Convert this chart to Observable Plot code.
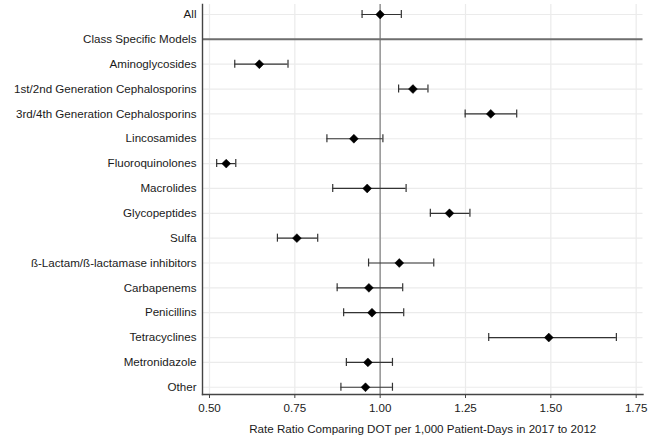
<!DOCTYPE html>
<html>
<head>
<meta charset="utf-8">
<script src="https://cdn.jsdelivr.net/npm/d3@7"></script>
<script src="https://cdn.jsdelivr.net/npm/@observablehq/plot@0.6"></script>
<style>
  html, body { margin: 0; padding: 0; background: #fff; }
  #chart svg { display: block; }
</style>
</head>
<body>
<div id="chart"></div>
<script>
const categories = [
  "All",
  "Class Specific Models",
  "Aminoglycosides",
  "1st/2nd Generation Cephalosporins",
  "3rd/4th Generation Cephalosporins",
  "Lincosamides",
  "Fluoroquinolones",
  "Macrolides",
  "Glycopeptides",
  "Sulfa",
  "ß-Lactam/ß-lactamase inhibitors",
  "Carbapenems",
  "Penicillins",
  "Tetracyclines",
  "Metronidazole",
  "Other"
];
const estimate = [1.00, null, 0.646, 1.096, 1.324, 0.923, 0.549, 0.962, 1.203, 0.756, 1.056, 0.967, 0.976, 1.494, 0.964, 0.957];
const lower    = [0.947, null, 0.574, 1.054, 1.249, 0.844, 0.521, 0.861, 1.147, 0.699, 0.966, 0.874, 0.893, 1.318, 0.901, 0.885];
const upper    = [1.062, null, 0.730, 1.140, 1.400, 1.008, 0.577, 1.076, 1.263, 0.817, 1.157, 1.066, 1.069, 1.692, 1.036, 1.036];
const xTicks = [0.50, 0.75, 1.00, 1.25, 1.50, 1.75];
const xLabel = "Rate Ratio Comparing DOT per 1,000 Patient-Days in 2017 to 2012";
const sectionRow = "Class Specific Models";
const referenceValue = 1.00;

const rows = categories.map((c, i) => ({cat: c, est: estimate[i], lo: lower[i], hi: upper[i]}))
  .filter(d => d.est != null);

const step = 24.85;
const firstCenter = 14;
const capHalf = 4;

const chart = Plot.plot({
  width: 657,
  height: 439,
  marginLeft: 202,
  marginRight: 14.5,
  marginTop: 4,
  marginBottom: 45,
  style: {fontFamily: "'Liberation Sans', Arial, sans-serif", fontSize: "11.6px", color: "#1a1a1a", background: "#fff"},
  x: {domain: [0.4795, 1.77]},
  y: {type: "band", domain: categories, padding: 0, round: false,
      range: [firstCenter - step / 2, firstCenter + step * (categories.length - 0.5)]},
  marks: [
    Plot.ruleX(xTicks, {stroke: "#ebebeb", strokeWidth: 1.2}),
    Plot.ruleY(categories, {y: d => d, stroke: "#ebebeb", strokeWidth: 1.2}),
    Plot.ruleX([referenceValue], {stroke: "#9a9a9a", strokeWidth: 1.6}),
    Plot.ruleY([sectionRow], {y: d => d, stroke: "#6e6e6e", strokeWidth: 2}),
    Plot.ruleY(rows, {y: "cat", x1: "lo", x2: "hi", stroke: "#333", strokeWidth: 1.2}),
    Plot.tickX(rows, {y: "cat", x: "lo", stroke: "#333", strokeWidth: 1.2,
      insetTop: step / 2 - capHalf, insetBottom: step / 2 - capHalf}),
    Plot.tickX(rows, {y: "cat", x: "hi", stroke: "#333", strokeWidth: 1.2,
      insetTop: step / 2 - capHalf, insetBottom: step / 2 - capHalf}),
    Plot.dot(rows, {y: "cat", x: "est", symbol: "diamond2", r: 4, fill: "#000", stroke: "#000", strokeWidth: 0.5}),
    Plot.frame({anchor: "left", stroke: "#444", strokeWidth: 1.4}),
    Plot.frame({anchor: "bottom", stroke: "#444", strokeWidth: 1.4}),
    Plot.axisY({tickSize: 0, tickPadding: 6, label: null, fontSize: 11.6}),
    Plot.axisX({ticks: xTicks, tickFormat: d3.format(".2f"), tickSize: 4, tickPadding: 5,
      stroke: "#444", fontSize: 11.6,
      label: xLabel, labelAnchor: "center", labelArrow: "none", labelOffset: 38})
  ]
});
document.getElementById("chart").appendChild(chart);
</script>
</body>
</html>
